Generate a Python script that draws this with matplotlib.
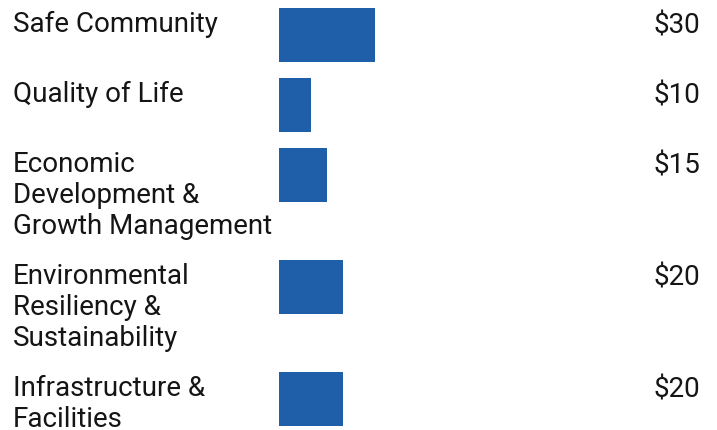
import matplotlib
matplotlib.use("Agg")
import matplotlib.pyplot as plt
from matplotlib.transforms import blended_transform_factory

categories = [
    "Safe Community",
    "Quality of Life",
    "Economic\nDevelopment &\nGrowth Management",
    "Environmental\nResiliency &\nSustainability",
    "Infrastructure &\nFacilities",
]
values = [30, 10, 15, 20, 20]
value_labels = ["$30", "$10", "$15", "$20", "$20"]

W, H = 717, 430
fig = plt.figure(figsize=(W / 100, H / 100), dpi=100)
px_per_unit = 3.2
bar_left_px = 279
ax = fig.add_axes([bar_left_px / W, 0, 1 - bar_left_px / W, 1])
ax.set_xlim(0, (W - bar_left_px) / px_per_unit)
ax.set_ylim(H, 0)
ax.axis("off")

font = ["Roboto", "DejaVu Sans"]
fs = 20
bar_h = 54
line_h = 32
pad = 16
color = "#1f5faa"

trans_lbl = blended_transform_factory(fig.transFigure, ax.transData)
top = 8
for cat, v, vl in zip(categories, values, value_labels):
    n = cat.count("\n") + 1
    ax.barh(top + bar_h / 2, v, height=bar_h, left=0, color=color)
    ax.text(13 / W, top + 3, cat, transform=trans_lbl, ha="left", va="top",
            fontsize=fs, family=font, color="#151515", linespacing=1.2)
    ax.text((700 - bar_left_px) / px_per_unit, top + 4, vl, ha="right", va="top",
            fontsize=fs, family=font, color="#151515")
    top += max(bar_h, n * line_h) + pad

fig.savefig("out.png", dpi=100)
